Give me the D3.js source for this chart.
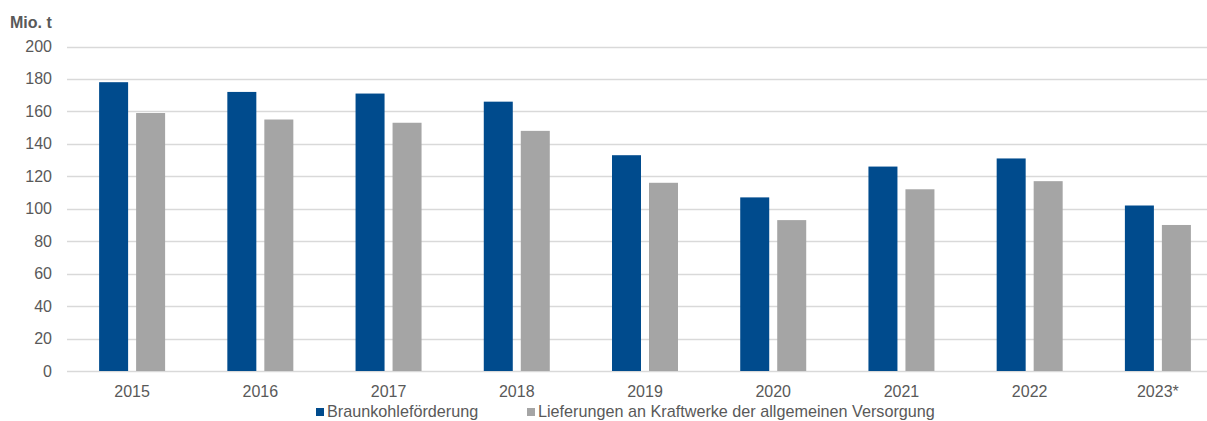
<!DOCTYPE html>
<html>
<head>
<meta charset="utf-8">
<script src="https://cdn.jsdelivr.net/npm/d3@7"></script>
<style>
  body { margin: 0; background: #fff; }
  text { font-family: "Liberation Sans", Arial, sans-serif; fill: #595959; }
</style>
</head>
<body>
<div class="content"></div>
<script>
//--> Data
const years = ["2015", "2016", "2017", "2018", "2019", "2020", "2021", "2022", "2023*"];
const foerderung = [178, 172, 171, 166, 133, 107, 126, 131, 102];
const lieferungen = [159, 155, 153, 148, 116, 93, 112, 117, 90];
const seriesNames = ["Braunkohleförderung", "Lieferungen an Kraftwerke der allgemeinen Versorgung"];
const seriesColors = ["#004B8D", "#A5A5A5"];
const yTicks = [0, 20, 40, 60, 80, 100, 120, 140, 160, 180, 200];

//--> Set up main elements
const width = 1207;
const height = 421;

const svg = d3
  .select(".content")
  .append("svg")
  .attr("width", width)
  .attr("height", height);

const x = d3.scaleBand().domain(years).range([68, 1222]);
const y = d3.scaleLinear().domain([0, 200]).range([371, 46.5]);

const barWidth = 29;
const barGap = 8;

//--> Grid
svg
  .append("g")
  .selectAll("line")
  .data(yTicks)
  .join("line")
  .attr("x1", 67)
  .attr("x2", width)
  .attr("y1", d => Math.round(y(d)) + 0.5)
  .attr("y2", d => Math.round(y(d)) + 0.5)
  .attr("stroke", "#d9d9d9")
  .attr("stroke-width", 1.3);

//--> Y labels
svg
  .append("g")
  .selectAll("text")
  .data(yTicks)
  .join("text")
  .attr("x", 52)
  .attr("y", d => y(d) + 5.5)
  .attr("text-anchor", "end")
  .attr("font-size", 16)
  .text(d => d);

svg
  .append("text")
  .attr("x", 10)
  .attr("y", 28)
  .attr("font-size", 16)
  .attr("font-weight", "bold")
  .text("Mio. t");

//--> Bars
const series = [foerderung, lieferungen];
series.forEach((values, s) => {
  svg
    .append("g")
    .selectAll("rect")
    .data(values)
    .join("rect")
    .attr("x", (d, i) => {
      const c = x(years[i]) + x.bandwidth() / 2;
      return s === 0 ? c - barGap / 2 - barWidth : c + barGap / 2;
    })
    .attr("y", d => y(d))
    .attr("width", barWidth)
    .attr("height", d => y(0) - y(d))
    .attr("fill", seriesColors[s]);
});

//--> X labels
svg
  .append("g")
  .selectAll("text")
  .data(years)
  .join("text")
  .attr("x", d => x(d) + x.bandwidth() / 2)
  .attr("y", 397)
  .attr("text-anchor", "middle")
  .attr("font-size", 16)
  .text(d => d);

//--> Legend
const legendX = [316, 527];
const legend = svg
  .append("g")
  .selectAll("g")
  .data(seriesNames)
  .join("g")
  .attr("transform", (d, i) => `translate(${legendX[i]}, 0)`);

legend
  .append("rect")
  .attr("y", 408)
  .attr("width", 8)
  .attr("height", 8)
  .attr("fill", (d, i) => seriesColors[i]);

legend
  .append("text")
  .attr("x", 11)
  .attr("y", 417)
  .attr("font-size", 16.2)
  .text(d => d);
</script>
</body>
</html>
